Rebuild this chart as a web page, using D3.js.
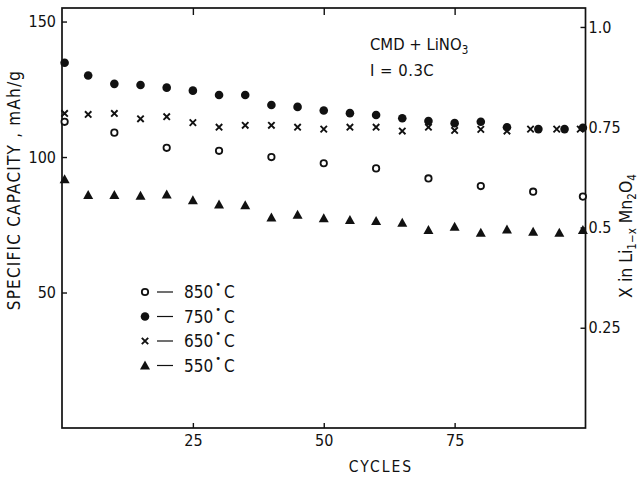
<!DOCTYPE html>
<html>
<head>
<meta charset="utf-8">
<script src="https://cdn.jsdelivr.net/npm/d3@7"></script>
<style>
  html, body { margin: 0; padding: 0; background: #fff; }
  svg { display: block; }
  text { font-family: "DejaVu Sans Condensed", "Liberation Sans Narrow", sans-serif; fill: #111; }
</style>
</head>
<body>
<svg id="chart" width="641" height="477"></svg>
<script>
// Capacity (mAh/g) versus cycle number for four firing temperatures
const cycles850 = [0.5, 10, 20, 30, 40, 50, 60, 70, 80, 90, 99.5];
const cap850    = [113, 109, 103.4, 102.3, 100, 97.7, 95.8, 92.1, 89.3, 87.2, 85.4];

const cycles750 = [0.5, 5, 10, 15, 20, 25, 30, 35, 40, 45, 50, 55, 60, 65, 70, 75, 80, 85, 91, 96, 99.5];
const cap750    = [134.8, 130.1, 127, 126.6, 125.6, 124.5, 122.9, 122.9, 119.2, 118.5, 117.2, 116.2, 115.5, 114.3, 113.3, 112.5, 113, 111, 110.3, 110.3, 110.8];

const cycles650 = [0.5, 5, 10, 15, 20, 25, 30, 35, 40, 45, 50, 55, 60, 65, 70, 75, 80, 85, 89.5, 94.5, 99];
const cap650    = [116.1, 115.7, 116.1, 114.1, 114.9, 112.7, 111, 111.7, 111.7, 111, 110.3, 111, 111, 109.6, 111, 109.8, 110.2, 109.6, 110.3, 110.3, 110.3];

const cycles550 = [0.5, 5, 10, 15, 20, 25, 30, 35, 40, 45, 50, 55, 60, 65, 70, 75, 80, 85, 90, 95, 99.5];
const cap550    = [91.8, 86, 86, 85.7, 86.2, 84.1, 82.5, 82.2, 77.7, 78.7, 77.4, 76.8, 76.4, 75.8, 73.1, 74.3, 72.1, 73.3, 72.4, 72.1, 73.1];

const seriesNames = ["850", "750", "650", "550"];
const seriesSymbols = ["open", "filled", "cross", "triangle"];

const xTicks = [25, 50, 75];
const yTicks = [50, 100, 150];
const rightTicks = [0.25, 0.5, 0.75, 1.0];
const rightTickLabels = ["0.25", "0.5", "0.75", "1.0"];
const capacityAtX1 = 148; // mAh/g corresponding to x = 1 in Li1-xMn2O4

const svg = d3.select("#chart");
const m = { left: 62, right: 585.5, top: 8, bottom: 428 };

const x = d3.scaleLinear().domain([0, 100]).range([m.left, m.right]);
const y = d3.scaleLinear().domain([0, 155]).range([m.bottom, m.top]);
const yR = d3.scaleLinear().domain([0, 155 / capacityAtX1]).range([m.bottom, m.top]);

// frame
svg.append("rect")
  .attr("x", m.left).attr("y", m.top)
  .attr("width", m.right - m.left).attr("height", m.bottom - m.top)
  .attr("fill", "none").attr("stroke", "#111").attr("stroke-width", 1.7);

const tickSize = 5;
// bottom axis: inward ticks
const gx = svg.append("g").attr("transform", `translate(0,${m.bottom})`)
  .call(d3.axisBottom(x).tickValues(xTicks).tickSizeInner(-tickSize).tickSizeOuter(0).tickPadding(7));
// top axis ticks only
const gxt = svg.append("g").attr("transform", `translate(0,${m.top})`)
  .call(d3.axisTop(x).tickValues(xTicks).tickSizeInner(-tickSize - 2).tickSizeOuter(0).tickFormat(""));
// left axis
const gy = svg.append("g").attr("transform", `translate(${m.left},0)`)
  .call(d3.axisLeft(y).tickValues(yTicks).tickSizeInner(-tickSize).tickSizeOuter(0).tickPadding(8));
// right axis
const gr = svg.append("g").attr("transform", `translate(${m.right},0)`)
  .call(d3.axisRight(yR).tickValues(rightTicks).tickSizeInner(-tickSize).tickSizeOuter(0).tickPadding(3)
    .tickFormat((d, i) => rightTickLabels[i]));

[gx, gxt, gy, gr].forEach(g => {
  g.select(".domain").remove();
  g.selectAll(".tick line").attr("stroke", "#111").attr("stroke-width", 1.4);
  g.selectAll(".tick text").attr("font-size", 16).attr("fill", "#111")
    .style("font-family", '"DejaVu Sans Condensed", "Liberation Sans Narrow", sans-serif');
});
gy.selectAll(".tick text").attr("dx", 2);

// axis titles
svg.append("text")
  .attr("transform", `translate(20,${190}) rotate(-90)`)
  .attr("text-anchor", "middle").attr("font-size", 17).attr("letter-spacing", 1.2)
  .text("SPECIFIC CAPACITY , mAh/g");

svg.append("text")
  .attr("x", 381).attr("y", 472)
  .attr("text-anchor", "middle").attr("font-size", 15.5).attr("letter-spacing", 2)
  .text("CYCLES");

const rl = svg.append("text")
  .attr("transform", `translate(632,${236}) rotate(-90)`)
  .attr("text-anchor", "middle").attr("font-size", 17.5);
rl.append("tspan").text("X in Li");
rl.append("tspan").attr("font-size", 11.5).attr("dy", 4).text("1−x");
rl.append("tspan").attr("dy", -4).text(" Mn");
rl.append("tspan").attr("font-size", 11.5).attr("dy", 4).text("2");
rl.append("tspan").attr("dy", -4).text("O");
rl.append("tspan").attr("font-size", 11.5).attr("dy", 4).text("4");

// annotation
const t1 = svg.append("text").attr("x", 370).attr("y", 50).attr("font-size", 16.5);
t1.append("tspan").text("CMD + LiNO");
t1.append("tspan").attr("font-size", 11.5).attr("dy", 4).text("3");
svg.append("text").attr("x", 370).attr("y", 76).attr("font-size", 16.5).attr("letter-spacing", 0.5).text("I = 0.3C");

// marker drawing
function drawMarker(g, kind, cx, cy) {
  if (kind === "open") {
    g.append("circle").attr("cx", cx).attr("cy", cy).attr("r", 3.2)
      .attr("fill", "#fff").attr("stroke", "#111").attr("stroke-width", 1.8);
  } else if (kind === "filled") {
    g.append("circle").attr("cx", cx).attr("cy", cy).attr("r", 4.3).attr("fill", "#111");
  } else if (kind === "cross") {
    const s = 3.2;
    g.append("path")
      .attr("d", `M${cx - s},${cy - s}L${cx + s},${cy + s}M${cx - s},${cy + s}L${cx + s},${cy - s}`)
      .attr("stroke", "#111").attr("stroke-width", 1.9).attr("fill", "none");
  } else {
    const w = 5, h = 9;
    g.append("path")
      .attr("d", `M${cx},${cy - h * 0.55}L${cx + w},${cy + h * 0.45}L${cx - w},${cy + h * 0.45}Z`)
      .attr("fill", "#111");
  }
}

const allSeries = [
  { kind: "open",     c: cycles850, v: cap850 },
  { kind: "filled",   c: cycles750, v: cap750 },
  { kind: "cross",    c: cycles650, v: cap650 },
  { kind: "triangle", c: cycles550, v: cap550 }
];

const marks = svg.append("g");
// draw triangles, crosses, filled, then open on top
[3, 2, 1, 0].forEach(i => {
  const s = allSeries[i];
  const g = marks.append("g");
  s.c.forEach((cv, j) => drawMarker(g, s.kind, x(cv), y(s.v[j])));
});

// legend
const lg = svg.append("g");
const legY0 = 292, legDy = 24.5;
seriesNames.forEach((name, i) => {
  const ly = legY0 + i * legDy;
  drawMarker(lg, seriesSymbols[i], 145, ly);
  lg.append("line").attr("x1", 157).attr("x2", 173).attr("y1", ly).attr("y2", ly)
    .attr("stroke", "#111").attr("stroke-width", 1.2);
  const t = lg.append("text").attr("x", 184).attr("y", ly + 6).attr("font-size", 17);
  t.append("tspan").text(name);
  t.append("tspan").attr("font-size", 11).attr("dy", -10).attr("dx", 2).text("•");
  t.append("tspan").attr("dy", 10).attr("dx", 3).text("C");
});
</script>
</body>
</html>
